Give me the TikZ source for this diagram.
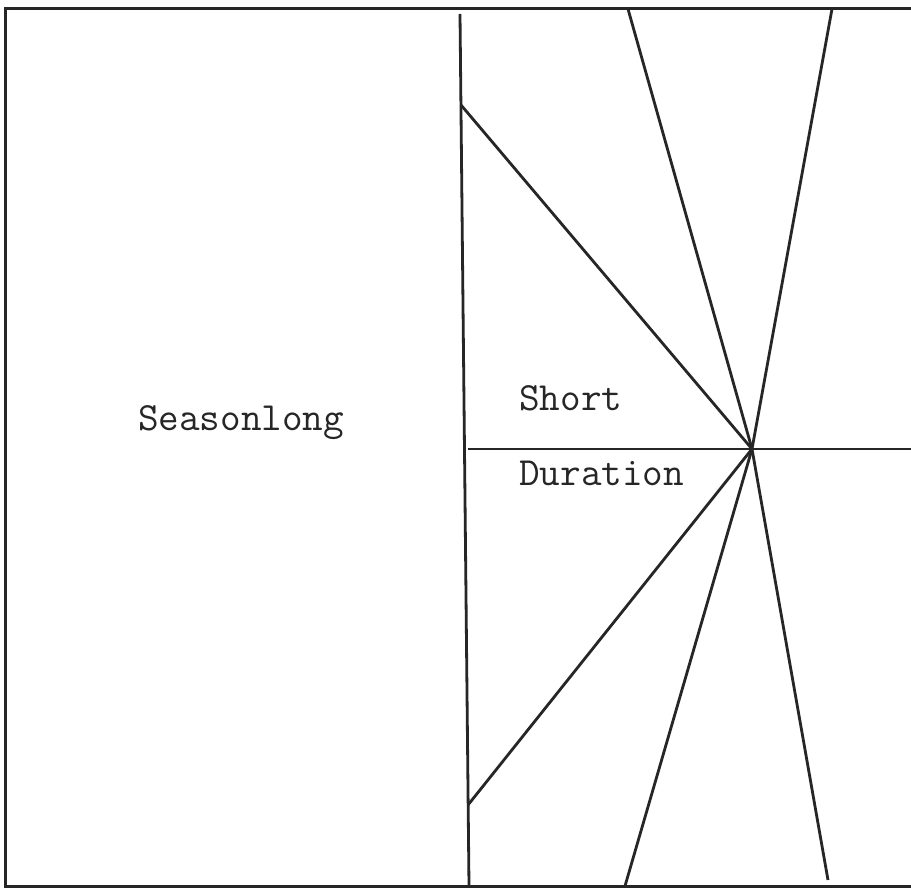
\documentclass[tikz,border=0pt]{standalone}
\usepackage{fontspec}
\begin{document}
\begin{tikzpicture}[x=1pt,y=-1pt,
  ln/.style={line width=2.8pt,black!85},
  lbl/.style={font=\ttfamily\fontsize{40}{46}\selectfont,inner sep=0pt,text=black!85}]
\useasboundingbox (0,0) rectangle (911,890);
\fill[white] (0,0) rectangle (911,890);
% border
\draw[ln,line width=3pt] (920,9) -- (5,9) -- (5,886) -- (920,886);
% coordinates
\coordinate (vt) at (460,14);
\coordinate (vb) at (469,886);
\coordinate (c) at (752,449);
\coordinate (hl) at (468,449);
\coordinate (hr) at (911,449);
\coordinate (u1) at (461,105);
\coordinate (u2) at (628,9);
\coordinate (u3) at (832,9);
\coordinate (d1) at (468,805);
\coordinate (d2) at (625,886);
\coordinate (d3) at (828,880);
\draw[ln] (vt) -- (vb);
\draw[ln] (hl) -- (hr);
\draw[ln] (c) -- (u1);
\draw[ln] (c) -- (u2);
\draw[ln] (c) -- (u3);
\draw[ln] (c) -- (d1);
\draw[ln] (c) -- (d2);
\draw[ln] (c) -- (d3);
\node[lbl] (season) at (241,423) {Seasonlong};
\node[lbl,anchor=west] (short) at (519,398) {Short};
\node[lbl,anchor=west] (dur) at (519,473) {Duration};
\end{tikzpicture}
\end{document}
